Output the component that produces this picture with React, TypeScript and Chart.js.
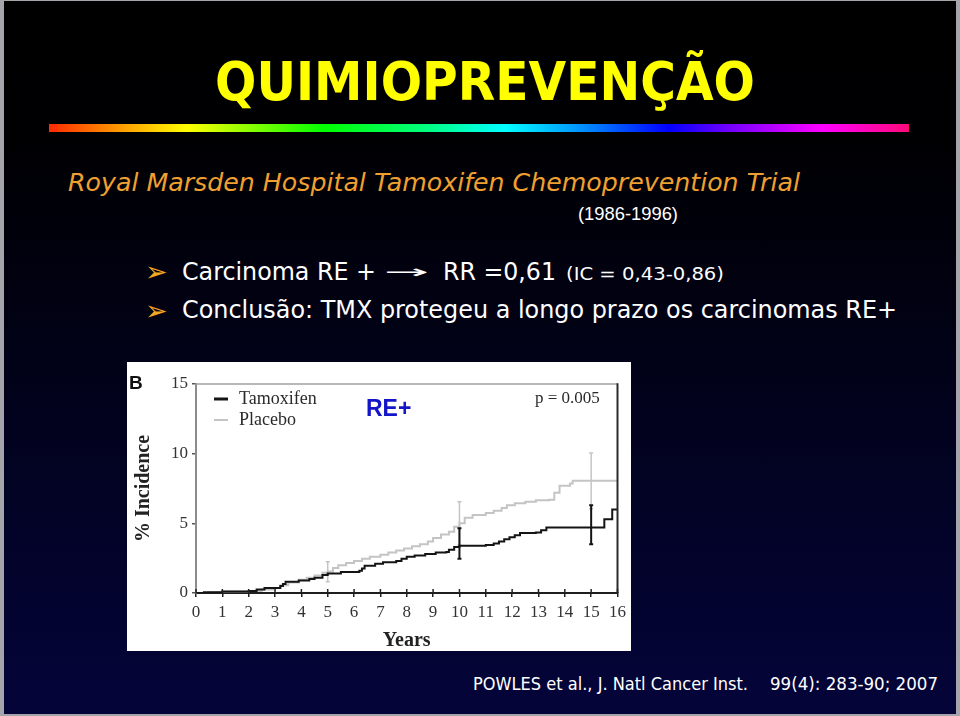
import React, { useEffect, useRef } from 'react';
import { Chart, registerables } from 'chart.js';

Chart.register(...registerables);

// ---------- data ----------
const xTickValues = [0, 1, 2, 3, 4, 5, 6, 7, 8, 9, 10, 11, 12, 13, 14, 15, 16];
const yTickValues = [0, 5, 10, 15];

const tamoxifenYears = [0, 0.3, 1.0, 2.0, 2.3, 2.6, 3.2, 3.3, 3.4, 3.9, 4.3, 4.5, 4.8, 5.0, 5.5, 6.2, 6.3, 6.4, 6.8, 7.1, 7.6, 7.8, 8.0, 8.3, 8.7, 9.1, 9.5, 9.6, 9.8, 10.0, 11.0, 11.3, 11.5, 11.7, 11.9, 12.1, 12.3, 12.9, 13.1, 13.3, 15.5, 15.8, 16.0];
const tamoxifenPct = [0, 0.05, 0.1, 0.15, 0.25, 0.35, 0.5, 0.65, 0.8, 0.9, 1.0, 1.1, 1.3, 1.4, 1.5, 1.6, 1.75, 1.95, 2.1, 2.2, 2.3, 2.45, 2.6, 2.7, 2.8, 2.9, 2.95, 3.1, 3.3, 3.4, 3.45, 3.55, 3.7, 3.85, 4.0, 4.15, 4.3, 4.35, 4.5, 4.7, 5.3, 6.0, 6.0];

const placeboYears = [0, 0.5, 1.0, 2.0, 2.5, 3.0, 3.2, 3.5, 3.9, 4.2, 4.5, 4.8, 5.0, 5.2, 5.4, 5.7, 6.0, 6.3, 6.6, 7.0, 7.3, 7.6, 7.9, 8.2, 8.5, 8.8, 9.0, 9.3, 9.6, 9.8, 10.0, 10.2, 10.5, 11.0, 11.3, 11.6, 11.8, 12.1, 12.5, 12.9, 13.4, 13.6, 13.8, 14.2, 14.3, 16.0];
const placeboPct = [0, 0.05, 0.1, 0.15, 0.25, 0.35, 0.55, 0.75, 0.95, 1.1, 1.25, 1.45, 1.55, 1.8, 2.0, 2.15, 2.3, 2.45, 2.6, 2.75, 2.9, 3.05, 3.2, 3.35, 3.5, 3.7, 3.95, 4.2, 4.4, 4.75, 5.0, 5.4, 5.6, 5.75, 5.9, 6.1, 6.3, 6.45, 6.55, 6.65, 6.7, 7.2, 7.7, 7.85, 8.05, 8.05];

const placeboErrYears = [5, 10, 15];
const placeboErrLow = [0.8, 3.45, 6.05];
const placeboErrHigh = [2.25, 6.55, 10.05];

const tamoxifenErrYears = [10, 15];
const tamoxifenErrLow = [2.45, 3.5];
const tamoxifenErrHigh = [4.65, 6.3];

const seriesNames = ['Tamoxifen', 'Placebo'];
const pValueText = 'p = 0.005';
const subgroupText = 'RE+';
const panelLetter = 'B';

// ---------- styles ----------
const TAM_COLOR = '#141414';
const PLA_COLOR = '#c4c4c4';
const SERIF = '"Liberation Serif", "Times New Roman", serif';
const SANS = '"Liberation Sans", Arial, sans-serif';
const SLIDE_FONT = '"DejaVu Sans", Verdana, sans-serif';

const toPoints = (xs: number[], ys: number[]) => xs.map((x, i) => ({ x, y: ys[i] }));

const decorPlugin = {
  id: 'decor',
  afterDraw(chart: any) {
    const { ctx, chartArea: a, scales } = chart;
    const xs = scales.x;
    ctx.save();
    ctx.lineCap = 'butt';
    ctx.strokeStyle = '#a0a0a0';
    ctx.lineWidth = 1.5;
    ctx.beginPath();
    ctx.moveTo(a.left, a.top);
    ctx.lineTo(a.right, a.top);
    ctx.stroke();
    ctx.strokeStyle = '#2a2a2a';
    ctx.lineWidth = 2;
    ctx.beginPath();
    ctx.moveTo(a.right, a.top - 0.75);
    ctx.lineTo(a.right, a.bottom);
    ctx.stroke();
    ctx.strokeStyle = '#222';
    ctx.lineWidth = 1.5;
    ctx.beginPath();
    for (const v of xTickValues) {
      const px = xs.getPixelForValue(v);
      ctx.moveTo(px, a.bottom);
      ctx.lineTo(px, a.bottom - 4);
    }
    ctx.stroke();

    // legend
    ctx.lineWidth = 3;
    ctx.strokeStyle = TAM_COLOR;
    ctx.beginPath();
    ctx.moveTo(87, 37);
    ctx.lineTo(101, 37);
    ctx.stroke();
    ctx.strokeStyle = PLA_COLOR;
    ctx.lineWidth = 2;
    ctx.beginPath();
    ctx.moveTo(87, 58);
    ctx.lineTo(101, 58);
    ctx.stroke();
    ctx.fillStyle = '#2a2a2a';
    ctx.font = `18px ${SERIF}`;
    ctx.textBaseline = 'middle';
    ctx.textAlign = 'left';
    ctx.fillText(seriesNames[0], 112, 37);
    ctx.fillText(seriesNames[1], 112, 58);
    ctx.font = `17px ${SERIF}`;
    ctx.fillText(pValueText, 408, 37);

    ctx.fillStyle = '#1414c8';
    ctx.font = `bold 23px ${SANS}`;
    ctx.fillText(subgroupText, 239, 48);

    ctx.fillStyle = '#111';
    ctx.font = `bold 19px ${SANS}`;
    ctx.fillText(panelLetter, 2, 22);
    ctx.restore();
  },
};

function KMChart() {
  const ref = useRef<HTMLCanvasElement | null>(null);
  useEffect(() => {
    if (!ref.current) return;
    const errSets: any[] = [];
    placeboErrYears.forEach((yr, i) => {
      errSets.push({
        data: [{ x: yr, y: placeboErrLow[i] }, { x: yr, y: placeboErrHigh[i] }],
        borderColor: PLA_COLOR,
        backgroundColor: PLA_COLOR,
        borderWidth: 1.5,
        pointStyle: 'line',
        pointRadius: 2,
        pointBorderWidth: 1.5,
        pointBorderColor: PLA_COLOR,
        order: 3,
      });
    });
    tamoxifenErrYears.forEach((yr, i) => {
      errSets.push({
        data: [{ x: yr, y: tamoxifenErrLow[i] }, { x: yr, y: tamoxifenErrHigh[i] }],
        borderColor: TAM_COLOR,
        backgroundColor: TAM_COLOR,
        borderWidth: 2,
        pointStyle: 'line',
        pointRadius: 2,
        pointBorderWidth: 2,
        pointBorderColor: TAM_COLOR,
        order: 0,
      });
    });
    const chart = new Chart(ref.current, {
      type: 'line',
      data: {
        datasets: [
          {
            label: seriesNames[1],
            data: toPoints(placeboYears, placeboPct),
            borderColor: PLA_COLOR,
            borderWidth: 2,
            stepped: 'before',
            pointRadius: 0,
            fill: false,
            order: 2,
          },
          {
            label: seriesNames[0],
            data: toPoints(tamoxifenYears, tamoxifenPct),
            borderColor: TAM_COLOR,
            borderWidth: 2,
            stepped: 'before',
            pointRadius: 0,
            fill: false,
            order: 1,
          },
          ...errSets,
        ],
      },
      options: {
        animation: false,
        responsive: false,
        maintainAspectRatio: false,
        devicePixelRatio: 1,
        layout: { padding: { top: 22, right: 12, left: 0, bottom: 0 } },
        plugins: {
          legend: { display: false },
          tooltip: { enabled: false },
          title: { display: false },
        },
        scales: {
          x: {
            type: 'linear',
            min: 0,
            max: 16,
            afterBuildTicks: (s: any) => {
              s.ticks = xTickValues.map((v) => ({ value: v }));
            },
            afterFit: (s: any) => {
              s.height = 58;
            },
            ticks: {
              autoSkip: false,
              maxRotation: 0,
              padding: 5,
              color: '#333',
              font: { family: SERIF, size: 17 },
            },
            grid: {
              drawOnChartArea: false,
              drawTicks: true,
              tickLength: 4,
              color: '#222',
              lineWidth: 1.5,
            },
            border: { display: true, color: '#1e1e1e', width: 2 },
            title: {
              display: true,
              text: 'Years',
              color: '#222',
              padding: 0,
              font: { family: SERIF, size: 20, weight: 'bold', lineHeight: 1 },
            },
          },
          y: {
            type: 'linear',
            min: 0,
            max: 15,
            afterBuildTicks: (s: any) => {
              s.ticks = yTickValues.map((v) => ({ value: v }));
            },
            afterFit: (s: any) => {
              s.width = 69;
            },
            ticks: {
              padding: 4,
              color: '#333',
              font: { family: SERIF, size: 17 },
            },
            grid: {
              drawOnChartArea: false,
              drawTicks: true,
              tickLength: 4,
              color: '#555',
              lineWidth: 1.5,
            },
            border: { display: true, color: '#8c8c8c', width: 2 },
            title: {
              display: true,
              text: '% Incidence',
              color: '#222',
              padding: { top: 7, bottom: 0 },
              font: { family: SERIF, size: 20, weight: 'bold', lineHeight: 1 },
            },
          },
        },
      } as any,
      plugins: [decorPlugin],
    });
    return () => chart.destroy();
  }, []);
  return <canvas ref={ref} width={504} height={289} style={{ display: 'block', width: 504, height: 289 }} />;
}

export default function App() {
  const txt = { fontFamily: SLIDE_FONT } as const;
  return (
    <div style={{ position: 'fixed', left: 0, top: 0, width: 960, height: 716, background: '#a4a4aa', overflow: 'hidden' }}>
      <svg width={960} height={716} style={{ position: 'absolute', left: 0, top: 0 }}>
        <defs>
          <linearGradient id="bg" x1="0" y1="0" x2="0" y2="1">
            <stop offset="0" stopColor="#000000" />
            <stop offset="0.2" stopColor="#000003" />
            <stop offset="1" stopColor="#04043a" />
          </linearGradient>
          <linearGradient id="rainbow" x1="0" y1="0" x2="1" y2="0">
            <stop offset="0" stopColor="#ff2a00" />
            <stop offset="0.07" stopColor="#ff8a00" />
            <stop offset="0.16" stopColor="#ffff00" />
            <stop offset="0.32" stopColor="#00ff00" />
            <stop offset="0.44" stopColor="#00ff80" />
            <stop offset="0.53" stopColor="#00ffff" />
            <stop offset="0.62" stopColor="#0090ff" />
            <stop offset="0.72" stopColor="#0000ff" />
            <stop offset="0.8" stopColor="#8000ff" />
            <stop offset="0.9" stopColor="#ff00ff" />
            <stop offset="1" stopColor="#ff0a78" />
          </linearGradient>
        </defs>
        <rect x={4} y={1} width={952} height={713} fill="url(#bg)" />
        <text x={215} y={100} textLength={540} lengthAdjust="spacingAndGlyphs" fill="#ffff00" fontWeight="bold" fontSize={54} style={txt}>
          QUIMIOPREVENÇÃO
        </text>
        <rect x={49} y={124} width={860} height={8} fill="url(#rainbow)" />
        <text x={68} y={191} textLength={732} lengthAdjust="spacingAndGlyphs" fill="#f0a030" fontStyle="italic" fontSize={25} style={txt}>
          Royal Marsden Hospital Tamoxifen Chemoprevention Trial
        </text>
        <text x={578} y={220} textLength={100} lengthAdjust="spacingAndGlyphs" fill="#ffffff" fontSize={19} style={{ fontFamily: SANS }}>
          (1986-1996)
        </text>
        <text x={145} y={281} fill="#f5a623" fontSize={27} style={txt}>➢</text>
        <text x={182} y={280} textLength={194} lengthAdjust="spacingAndGlyphs" fill="#ffffff" fontSize={25} style={txt}>
          Carcinoma RE +
        </text>
        <text x={384} y={278} textLength={45} lengthAdjust="spacingAndGlyphs" fill="#ffffff" fontSize={18} style={txt}>
          →
        </text>
        <text x={443} y={280} textLength={113} lengthAdjust="spacingAndGlyphs" fill="#ffffff" fontSize={25} style={txt}>
          RR =0,61
        </text>
        <text x={566} y={280} textLength={158} lengthAdjust="spacingAndGlyphs" fill="#ffffff" fontSize={17} style={txt}>
          (IC = 0,43-0,86)
        </text>
        <text x={145} y={320} fill="#f5a623" fontSize={27} style={txt}>➢</text>
        <text x={182} y={318} textLength={715} lengthAdjust="spacingAndGlyphs" fill="#ffffff" fontSize={25} style={txt}>
          Conclusão: TMX protegeu a longo prazo os carcinomas RE+
        </text>
        <text x={473} y={690} textLength={275} lengthAdjust="spacingAndGlyphs" fill="#ffffff" fontSize={18} style={txt}>
          POWLES et al., J. Natl Cancer Inst.
        </text>
        <text x={770} y={690} textLength={168} lengthAdjust="spacingAndGlyphs" fill="#ffffff" fontSize={18} style={txt}>
          99(4): 283-90; 2007
        </text>
      </svg>
      <div style={{ position: 'absolute', left: 127, top: 362, width: 504, height: 289, background: '#ffffff' }}>
        <KMChart />
      </div>
    </div>
  );
}
